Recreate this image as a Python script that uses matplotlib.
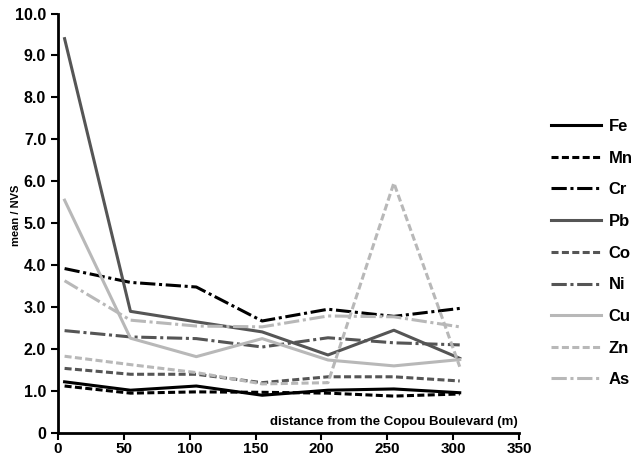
import numpy as np
import matplotlib
matplotlib.use("Agg")
import matplotlib.pyplot as plt

plt.rcParams['font.family'] = ['Liberation Sans', 'DejaVu Sans']
plt.rcParams['font.weight'] = 'bold'

# distance from the boulevard (m)
distance = [5, 55, 105, 155, 205, 255, 305]

# mean / NVS for each element
fe = [1.22, 1.02, 1.12, 0.90, 1.02, 1.05, 0.96]
mn = [1.12, 0.95, 0.98, 0.97, 0.95, 0.88, 0.93]
cr = [3.92, 3.59, 3.48, 2.67, 2.95, 2.78, 2.97]
pb = [9.40, 2.90, 2.65, 2.41, 1.86, 2.45, 1.78]
co = [1.54, 1.40, 1.40, 1.20, 1.34, 1.34, 1.24]
ni = [2.44, 2.29, 2.25, 2.05, 2.27, 2.15, 2.10]
cu = [5.55, 2.26, 1.82, 2.25, 1.74, 1.60, 1.75]
zn = [1.83, 1.63, 1.44, 1.17, 1.20, 5.96, 1.58]
as_ = [3.63, 2.69, 2.55, 2.53, 2.79, 2.77, 2.53]

labels = ['Fe', 'Mn', 'Cr', 'Pb', 'Co', 'Ni', 'Cu', 'Zn', 'As']
series = [fe, mn, cr, pb, co, ni, cu, zn, as_]

black = '#000000'
dark = '#555555'
light = '#b8b8b8'
colors = [black, black, black, dark, dark, dark, light, light, light]
solid = None
dash = (2.3, 1.1)
dashdot = (5, 1.2, 1, 1.2)
styles = [solid, dash, dashdot] * 3

fig = plt.figure(figsize=(6.33, 4.58), dpi=100)
ax = fig.add_axes([58 / 633, 1 - 433 / 458, (519 - 58) / 633, (433 - 13.5) / 458])

lines = []
for y, lab, c, st in zip(series, labels, colors, styles):
    ln, = ax.plot(distance, y, color=c, lw=2.2, label=lab)
    if st is not None:
        ln.set_dashes(st)
    lines.append(ln)

ax.set_xlim(0, 350)
ax.set_ylim(0, 10)
ax.set_xticks(np.arange(0, 351, 50))
ax.set_yticks(np.arange(0, 11, 1))
ax.set_yticklabels(['0'] + ['%.1f' % v for v in range(1, 11)])
ax.spines['top'].set_visible(False)
ax.spines['right'].set_visible(False)
for s in ['left', 'bottom']:
    ax.spines[s].set_linewidth(2)
ax.tick_params(axis='y', direction='out', length=5, width=1.5, labelsize=11.5)
ax.tick_params(axis='x', direction='out', length=5, width=1.5, labelsize=11, pad=1.5)
for t in ax.get_xticklabels() + ax.get_yticklabels():
    t.set_fontweight('bold')

ax.set_ylabel('mean / NVS', fontsize=8, fontweight='bold')
ax.yaxis.set_label_coords(-0.08, 0.52)
ax.text(349, 0.12, 'distance from the Copou Boulevard (m)', ha='right', va='bottom',
        fontsize=9.5, fontweight='bold')

fig.legend(lines, labels, loc='upper left', bbox_to_anchor=(536 / 633, 1 - 104 / 458),
           frameon=False, handlelength=3.0, labelspacing=1.0, handletextpad=0.45,
           prop={'size': 12, 'weight': 'bold'})

fig.savefig('out.png', dpi=100, facecolor='white')
